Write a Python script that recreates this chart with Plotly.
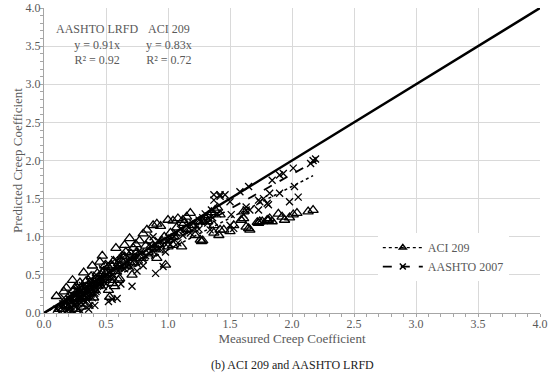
import plotly.graph_objects as go

# ---- data ----
aci_x = [0.10,0.16,0.18,0.23,0.32,0.39,0.45,0.47,0.58,0.65,0.69,0.72,0.65,0.69,
         0.71,0.60,0.55,0.52,0.53,0.57,0.61,0.54,
         0.15,0.18,0.20,0.22,0.25,0.27,0.28,0.30,0.32,0.33,0.35,0.37,0.40,0.42,0.44,0.46,0.48,0.50,0.52,0.55,0.57,0.60,0.62,0.25,0.30,0.35,0.40,0.20,0.12,
         0.24,0.26,0.29,0.31,0.34,0.36,0.38,0.41,0.43,0.45,0.49,0.51,0.56,0.59,0.63,0.66,0.70,0.74,0.77,
         0.80,0.83,0.88,0.91,0.94,0.90,0.91,0.98,0.87,0.75,0.78,0.82,0.85,1.00,1.04,1.08,1.12,1.15,1.18,1.00,1.04,1.11,0.95,1.05,1.10,1.15,1.20,1.25,1.30,1.22,1.26,1.27,1.28,
         1.37,1.42,1.42,1.37,1.41,1.45,1.50,1.53,1.59,1.63,1.66,1.73,1.76,1.80,1.84,1.61,1.61,1.65,1.72,1.74,1.81,1.82,1.89,1.92,1.94,1.98,2.01,2.04,2.13,2.17,1.33,1.35,1.38,1.32,1.40,
         0.67,0.73,0.79,0.84,0.89,0.93,0.97,1.02,1.07,1.13]
aci_y = [0.22,0.28,0.33,0.43,0.53,0.62,0.67,0.75,0.85,0.89,0.98,0.85,0.74,0.67,
         0.50,0.43,0.39,0.30,0.21,0.35,0.45,0.43,
         0.05,0.10,0.15,0.12,0.20,0.25,0.18,0.30,0.28,0.22,0.35,0.30,0.38,0.45,0.40,0.50,0.55,0.52,0.60,0.62,0.55,0.65,0.70,0.05,0.08,0.12,0.20,0.00,0.05,
         0.30,0.35,0.40,0.20,0.42,0.25,0.48,0.30,0.52,0.36,0.62,0.46,0.68,0.58,0.75,0.80,0.78,0.90,0.95,
         1.04,1.09,1.15,1.17,1.14,0.83,0.72,0.63,0.78,0.80,0.72,0.88,0.95,1.22,1.21,1.24,1.22,1.26,1.31,0.87,0.89,0.87,0.95,1.00,1.05,1.10,1.15,1.20,1.25,1.02,0.96,0.94,0.95,
         1.15,1.09,1.29,1.05,1.02,1.09,1.07,1.15,1.22,1.13,1.09,1.18,1.20,1.22,1.20,1.33,1.24,1.11,1.19,1.20,1.22,1.24,1.30,1.26,1.22,1.25,1.29,1.31,1.33,1.35,1.28,1.32,1.35,1.20,1.38,
         0.62,0.66,0.75,0.80,0.86,0.90,1.00,1.05,1.12,1.18]

aash_x = [1.37,1.42,1.50,1.58,1.65,1.73,1.77,1.80,1.82,1.37,1.42,1.46,1.63,1.66,1.34,1.50,1.53,1.51,1.84,1.90,1.93,2.01,2.15,2.19,2.17,1.90,1.98,2.02,2.05,1.74,1.73,1.81,1.63,1.61,
          0.90,0.96,0.71,0.59,0.52,0.41,0.55,0.62,0.70,0.75,0.80,0.85,0.90,0.95,1.00,1.05,1.10,1.15,1.20,1.25,1.30,1.35,1.28,1.22,1.12,1.02,0.92,0.88,0.85,0.78,0.72,0.68,0.65,0.60,0.55,0.50,0.45,0.40,0.35,0.30,0.25,0.20,0.15,0.10,0.18,0.22,0.28,0.32,0.38,0.43,0.48,0.27,0.33,0.38,0.42,0.47,0.52,0.57,0.63,0.24,0.30,0.36,0.22,0.16,0.58,0.62,0.75,0.80,0.98,1.08,1.18,1.32,1.36,1.25,1.40,
          0.19,0.21,0.23,0.26,0.29,0.31,0.34,0.37,0.39,0.44,0.46,0.49,0.53,0.56,0.61,0.66,0.69,0.73,0.76,0.82,0.87,0.93,0.97,1.03,1.07,1.13,1.17,1.23,1.27,1.33,
          0.14,0.17,0.19,0.21,0.24,0.26,0.28,0.31,0.33,0.35,0.37,0.40,0.42,0.45,0.47,0.50,0.27,0.29,0.34,0.39,
          0.13,0.16,0.20,0.23,0.25,0.28,0.30,0.32,0.36,0.38,0.41,0.44,0.21,0.26,0.31,0.35,0.40,0.43,0.46,0.51]
aash_y = [1.55,1.55,1.46,1.59,1.66,1.48,1.50,1.44,1.57,1.48,1.53,1.55,1.39,1.35,1.09,1.15,1.11,1.29,1.74,1.81,1.83,1.90,1.96,2.02,2.00,1.57,1.46,1.66,1.52,1.46,1.35,1.42,1.35,1.29,
          0.52,0.61,0.35,0.19,0.15,0.10,0.18,0.38,0.60,0.65,0.70,0.78,0.85,0.88,0.95,1.00,1.10,1.15,1.18,1.22,1.30,1.35,1.25,1.10,1.02,0.90,0.95,1.00,0.90,0.80,0.75,0.68,0.58,0.55,0.50,0.45,0.42,0.40,0.33,0.28,0.22,0.18,0.12,0.05,0.03,0.08,0.12,0.18,0.25,0.30,0.35,0.30,0.38,0.45,0.50,0.58,0.65,0.70,0.72,0.00,0.02,0.05,0.25,0.20,0.62,0.60,0.55,0.62,0.80,0.92,1.05,1.18,1.25,1.10,1.30,
          0.10,0.22,0.15,0.30,0.20,0.36,0.25,0.40,0.32,0.38,0.48,0.40,0.55,0.48,0.66,0.62,0.72,0.70,0.80,0.75,0.88,0.85,0.92,0.98,1.05,1.08,1.12,1.15,1.20,1.25,
          0.08,0.14,0.05,0.16,0.10,0.24,0.06,0.26,0.14,0.30,0.10,0.33,0.28,0.36,0.44,0.48,0.34,0.16,0.28,0.20,
          0.02,0.10,0.12,0.04,0.16,0.20,0.14,0.24,0.22,0.32,0.26,0.38,0.18,0.12,0.20,0.28,0.30,0.42,0.40,0.50]

aci_slope, aci_r2, aci_xmax = 0.83, 0.72, 2.17
aash_slope, aash_r2, aash_xmax = 0.91, 0.92, 2.20
tick_vals = [0.0, 0.5, 1.0, 1.5, 2.0, 2.5, 3.0, 3.5, 4.0]
tick_text = ["0.0", "0.5", "1.0", "1.5", "2.0", "2.5", "3.0", "3.5", "4.0"]

FONT = "Liberation Serif"
GRAY = "#595959"

fig = go.Figure()

# 1:1 line
fig.add_trace(go.Scatter(x=[0, 4], y=[0, 4], mode="lines",
                         line=dict(color="black", width=2.5), showlegend=False, hoverinfo="skip"))

fig.add_trace(go.Scatter(x=aci_x, y=aci_y, mode="markers", showlegend=False,
                         marker=dict(symbol="triangle-up-open", size=9, color="black",
                                     line=dict(width=1.3, color="black"))))
fig.add_trace(go.Scatter(x=aash_x, y=aash_y, mode="markers", showlegend=False,
                         marker=dict(symbol="x-thin-open", size=7, color="black",
                                     line=dict(width=1.3, color="black"))))

# trend lines
fig.add_trace(go.Scatter(x=[0, aci_xmax], y=[0, aci_slope * aci_xmax], mode="lines",
                         line=dict(color="black", width=1.5, dash="dot"), showlegend=False))
fig.add_trace(go.Scatter(x=[0, aash_xmax], y=[0, aash_slope * aash_xmax], mode="lines",
                         line=dict(color="black", width=1.8, dash="dash"), showlegend=False))

# legend entries
fig.add_trace(go.Scatter(x=[None], y=[None], mode="lines+markers", name="ACI 209",
                         line=dict(color="black", width=1.2, dash="dot"),
                         marker=dict(symbol="triangle-up-open", size=6, color="black",
                                     line=dict(width=1.5))))
fig.add_trace(go.Scatter(x=[None], y=[None], mode="lines+markers", name="AASHTO 2007",
                         line=dict(color="black", width=1.8, dash="dash"),
                         marker=dict(symbol="x-thin-open", size=6, color="black",
                                     line=dict(width=1.5))))

axis_common = dict(range=[0, 4], tickvals=tick_vals, ticktext=tick_text,
                   showgrid=True, gridcolor="#d9d9d9", gridwidth=1,
                   zeroline=False, showline=True, linecolor="#a6a6a6", linewidth=1,
                   ticks="", tickfont=dict(family=FONT, size=12, color=GRAY),
                   minor=dict(dtick=0.1, ticks="outside", ticklen=3, tickcolor="#a6a6a6",
                              showgrid=False),
                   automargin=False, fixedrange=True)

fig.update_layout(
    width=550, height=386,
    margin=dict(l=44, r=10, t=8, b=73),
    paper_bgcolor="white", plot_bgcolor="white",
    font=dict(family=FONT, color=GRAY),
    xaxis=dict(**axis_common,
               title=dict(text="Measured Creep Coefficient", standoff=0,
                          font=dict(family=FONT, size=13, color=GRAY))),
    yaxis=dict(**axis_common,
               title=dict(text="Predicted Creep Coefficient", standoff=0,
                          font=dict(family=FONT, size=13, color=GRAY))),
    legend=dict(x=0.673, y=0.262, xanchor="left", yanchor="top",
                bgcolor="white", borderwidth=0,
                font=dict(family=FONT, size=12, color=GRAY),
                tracegroupgap=4, itemwidth=40),
    annotations=[
        dict(x=0.43, y=3.84, xref="x", yref="y", xanchor="center", yanchor="top",
             text=f"AASHTO LRFD<br>y = {aash_slope:.2f}x<br>R² = {aash_r2:.2f}",
             showarrow=False, font=dict(family=FONT, size=12, color=GRAY), align="center"),
        dict(x=1.01, y=3.84, xref="x", yref="y", xanchor="center", yanchor="top",
             text=f"ACI 209<br>y = {aci_slope:.2f}x<br>R² = {aci_r2:.2f}",
             showarrow=False, font=dict(family=FONT, size=12, color=GRAY), align="center"),
        dict(x=0.5, y=-0.17, xref="paper", yref="paper", xanchor="center", yanchor="middle",
             text="(b) ACI 209 and AASHTO LRFD", showarrow=False,
             font=dict(family=FONT, size=12, color="#222222")),
    ],
)

# remove the default 8px page margin so the figure sits at the window's top-left corner
fig.write_html("out.html", config={"displayModeBar": False},
               post_script="document.body.style.margin='0';")
